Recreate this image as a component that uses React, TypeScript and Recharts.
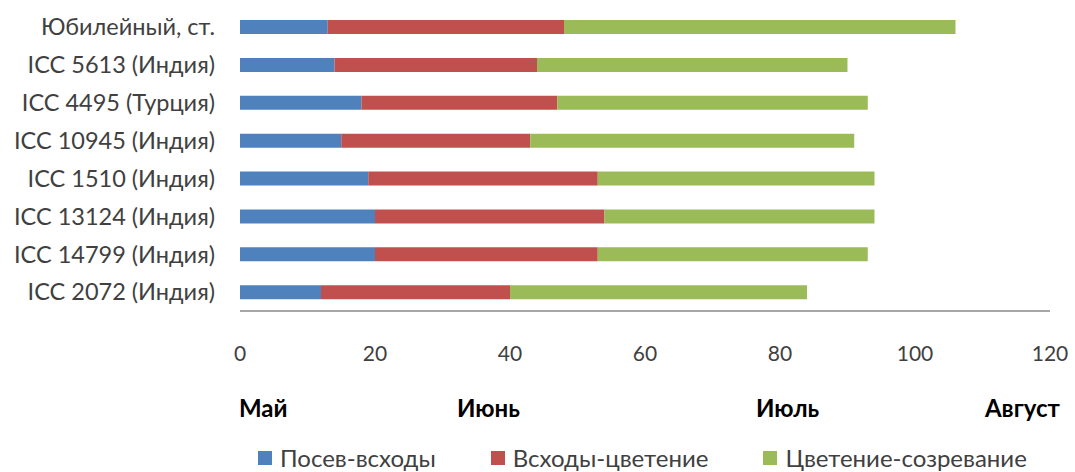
import { BarChart, Bar, XAxis, YAxis, Legend } from 'recharts'

const varieties = [
  'Юбилейный, ст.',
  'ICC 5613 (Индия)',
  'ICC 4495 (Турция)',
  'ICC 10945 (Индия)',
  'ICC 1510 (Индия)',
  'ICC 13124 (Индия)',
  'ICC 14799 (Индия)',
  'ICC 2072 (Индия)',
]

// длительность фаз, дней
const sowingToEmergence = [13, 14, 18, 15, 19, 20, 20, 12]
const emergenceToFlowering = [35, 30, 29, 28, 34, 34, 33, 28]
const floweringToRipening = [58, 46, 46, 48, 41, 40, 40, 44]

const xTicks = [0, 20, 40, 60, 80, 100, 120]
const months = ['Май', 'Июнь', 'Июль', 'Август']
const monthLeft = [239, 457, 756, 985]

const series = [
  { key: 'sowing', name: 'Посев-всходы', color: '#4F81BD' },
  { key: 'emergence', name: 'Всходы-цветение', color: '#C0504D' },
  { key: 'flowering', name: 'Цветение-созревание', color: '#9BBB59' },
]

const data = varieties.map((name, i) => ({
  name,
  sowing: sowingToEmergence[i],
  emergence: emergenceToFlowering[i],
  flowering: floweringToRipening[i],
}))

const font = 'Lato, "Open Sans", sans-serif'

function LegendContent() {
  return (
    <div
      style={{
        display: 'flex',
        justifyContent: 'flex-start',
        paddingLeft: 258,
        gap: 55,
        fontFamily: font,
        fontSize: 24,
        lineHeight: '24px',
        color: '#404040',
      }}
    >
      {series.map((s) => (
        <div key={s.key} style={{ display: 'flex', alignItems: 'center', gap: 8 }}>
          <span style={{ width: 14, height: 14, backgroundColor: s.color, display: 'inline-block' }} />
          <span>{s.name}</span>
        </div>
      ))}
    </div>
  )
}

export default function App() {
  return (
    <div style={{ position: 'absolute', left: 0, top: 0, width: 1075, height: 472, background: '#fff' }}>
      <BarChart
        width={1075}
        height={472}
        data={data}
        layout="vertical"
        margin={{ top: 8, right: 25, left: 0, bottom: 0 }}
        barSize={14}
      >
        <XAxis
          type="number"
          domain={[0, 120]}
          ticks={xTicks}
          height={135}
          axisLine={{ stroke: '#a6a6a6', strokeWidth: 2 }}
          tickLine={false}
          tickSize={0}
          tickMargin={35}
          tick={{ fill: '#404040', fontSize: 21, fontFamily: font }}
        />
        <YAxis
          type="category"
          dataKey="name"
          width={240}
          axisLine={false}
          tickLine={false}
          tickSize={0}
          tickMargin={25}
          tick={{ fill: '#404040', fontSize: 23.5, fontFamily: font }}
        />
        <Legend verticalAlign="bottom" align="left" height={26} content={<LegendContent />} />
        {series.map((s) => (
          <Bar key={s.key} dataKey={s.key} name={s.name} stackId="a" fill={s.color} isAnimationActive={false} />
        ))}
      </BarChart>
      {months.map((m, i) => (
        <span
          key={m}
          style={{
            position: 'absolute',
            left: monthLeft[i],
            top: 394,
            fontFamily: font,
            fontWeight: 'bold',
            fontSize: 24,
            lineHeight: '28px',
            color: '#000',
          }}
        >
          {m}
        </span>
      ))}
    </div>
  )
}
